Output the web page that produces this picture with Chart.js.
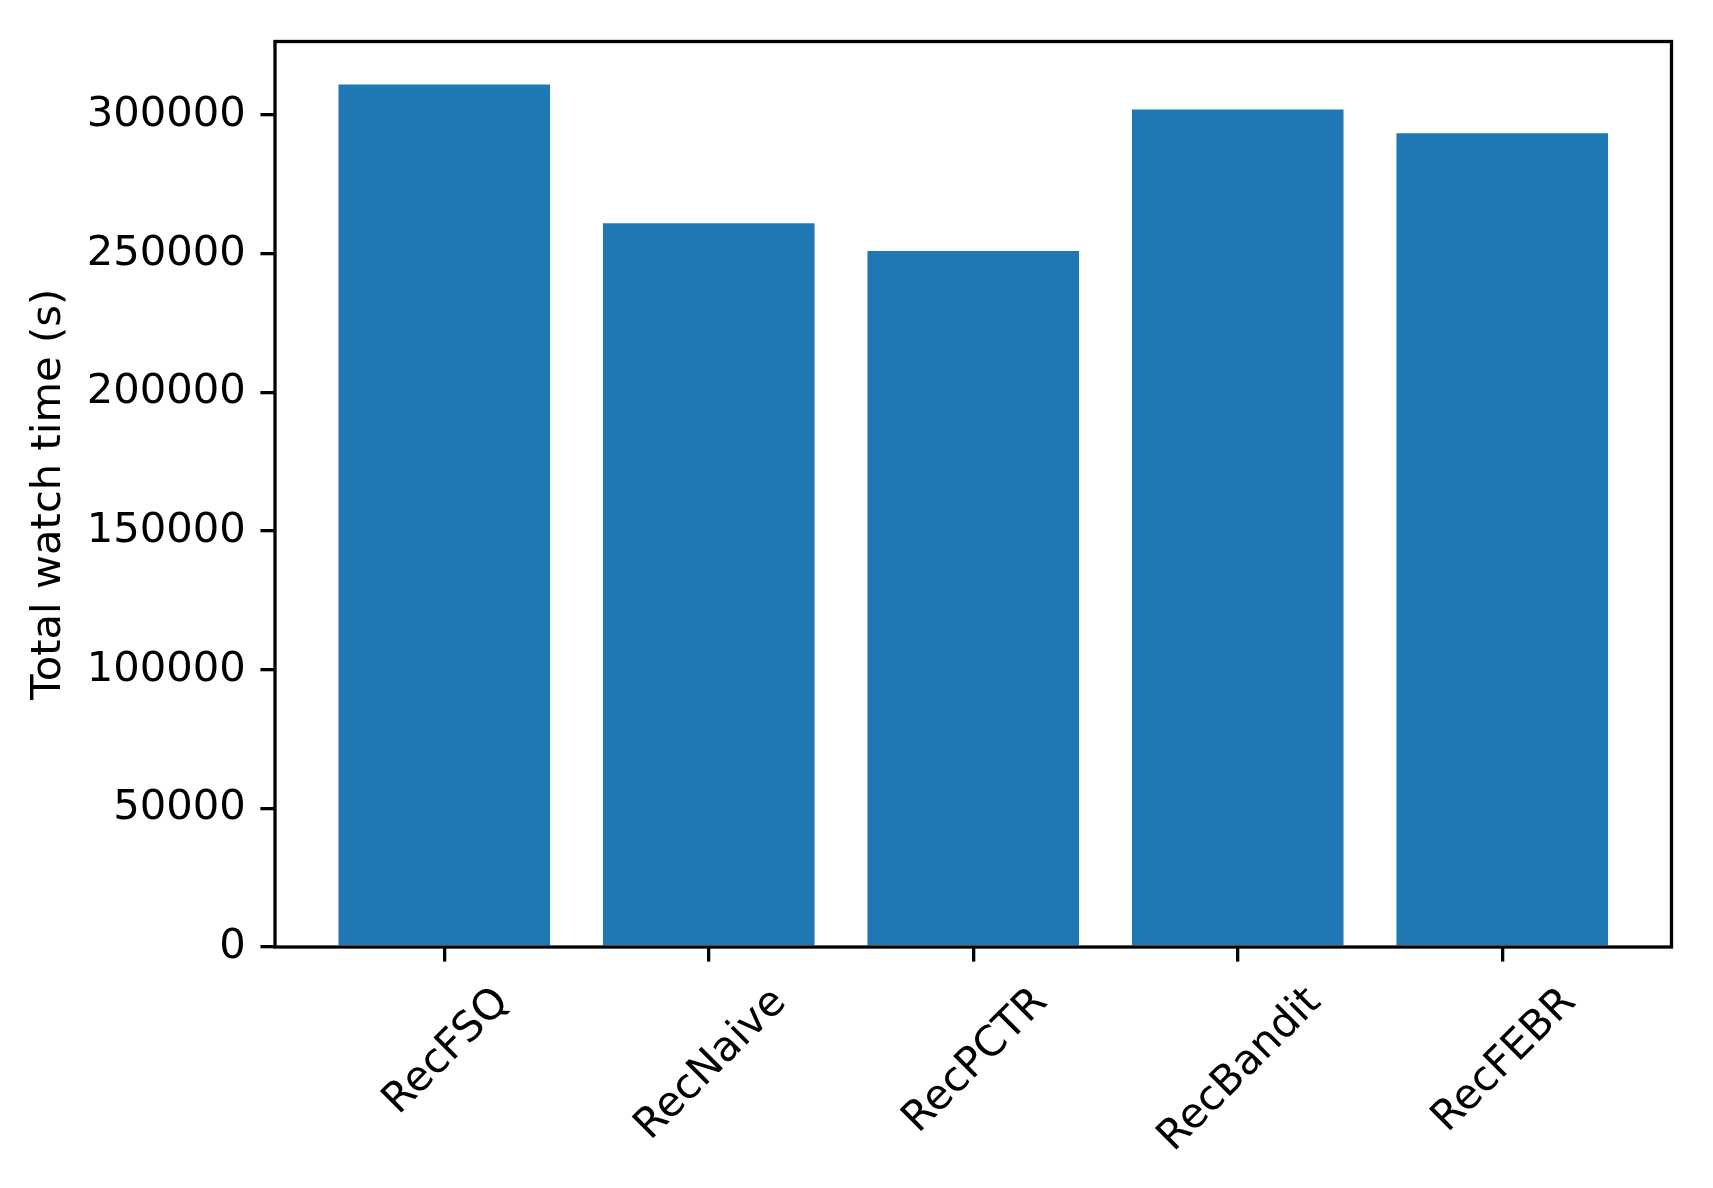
<!DOCTYPE html>
<html>
<head>
<meta charset="utf-8">
<script src="https://cdn.jsdelivr.net/npm/chart.js@4.4.1/dist/chart.umd.min.js"></script>
<style>
  html, body { margin: 0; padding: 0; background: #ffffff; }
  #wrap { width: 1713px; height: 1188px; }
</style>
</head>
<body>
<div id="wrap"><canvas id="c" width="1713" height="1188"></canvas></div>
<script>
const categories = ["RecFSQ", "RecNaive", "RecPCTR", "RecBandit", "RecFEBR"];
const watchTime = [311000, 261000, 251000, 302000, 293500];
const yTicks = [0, 50000, 100000, 150000, 200000, 250000, 300000];
const yLabel = "Total watch time (s)";

const FS = 41.7;          // 10pt at 300 dpi
const TICK = 14.6;        // 3.5pt
const LW = 3.3;           // 0.8pt
const FONT = "'DejaVu Sans', sans-serif";

const frame = {
  id: 'frame',
  afterDatasetsDraw(chart) {
    const {ctx, chartArea: a} = chart;
    ctx.save();
    ctx.strokeStyle = '#000';
    ctx.lineWidth = LW;
    ctx.strokeRect(a.left, a.top, a.right - a.left, a.bottom - a.top);
    ctx.restore();
  },
  afterDraw(chart) {
    const {ctx} = chart;
    const xs = chart.scales.x;
    const yTop = chart.chartArea.bottom + TICK + TICK;
    ctx.save();
    ctx.font = FS + "px " + FONT;
    ctx.fillStyle = '#000';
    ctx.textAlign = 'center';
    ctx.textBaseline = 'alphabetic';
    const s = Math.SQRT1_2;
    categories.forEach((lab, i) => {
      const w = ctx.measureText(lab).width;
      const h = FS * 1.164;
      const bb = (w + h) * s;
      const cx = xs.getPixelForValue(i);
      const cy = yTop + bb / 2;
      ctx.save();
      ctx.translate(cx, cy);
      ctx.rotate(-Math.PI / 4);
      ctx.fillText(lab, 0, FS * 0.346);
      ctx.restore();
    });
    ctx.restore();
  }
};

new Chart(document.getElementById('c'), {
  type: 'bar',
  data: {
    datasets: [{
      data: categories.map((c, i) => ({x: i, y: watchTime[i]})),
      backgroundColor: '#1f77b4',
      borderWidth: 0,
      barPercentage: 0.8,
      categoryPercentage: 1.0
    }]
  },
  options: {
    responsive: false,
    animation: false,
    devicePixelRatio: 1,
    layout: { padding: { top: 41.5, right: 41.5, left: 0, bottom: 0 } },
    plugins: { legend: { display: false }, tooltip: { enabled: false } },
    scales: {
      x: {
        type: 'linear',
        min: -0.64,
        max: 4.64,
        offset: false,
        afterBuildTicks(scale) { scale.ticks = categories.map((c, i) => ({value: i})); },
        afterFit(scale) { scale.height = 1188 - 947; },
        grid: { display: true, offset: false, drawOnChartArea: false, drawTicks: true, tickLength: TICK, lineWidth: LW, color: '#000' },
        border: { display: false },
        ticks: { display: true, color: 'rgba(0,0,0,0)', maxRotation: 0, autoSkip: false,
                 callback: (v) => categories[v] || '', font: { family: FONT, size: FS } }
      },
      y: {
        min: 0,
        max: 326550,
        afterBuildTicks(scale) { scale.ticks = yTicks.map(v => ({value: v})); },
        afterFit(scale) { scale.width = 275; },
        grid: { display: true, offset: false, drawOnChartArea: false, drawTicks: true, tickLength: TICK, lineWidth: LW, color: '#000' },
        border: { display: false },
        ticks: { color: '#000', padding: TICK, font: { family: FONT, size: FS }, callback: (v) => String(v) },
        title: { display: true, text: yLabel, color: '#000', font: { family: FONT, size: FS, lineHeight: 1.2 }, padding: { top: 24, bottom: 0 } }
      }
    }
  },
  plugins: [frame]
});
</script>
</body>
</html>
